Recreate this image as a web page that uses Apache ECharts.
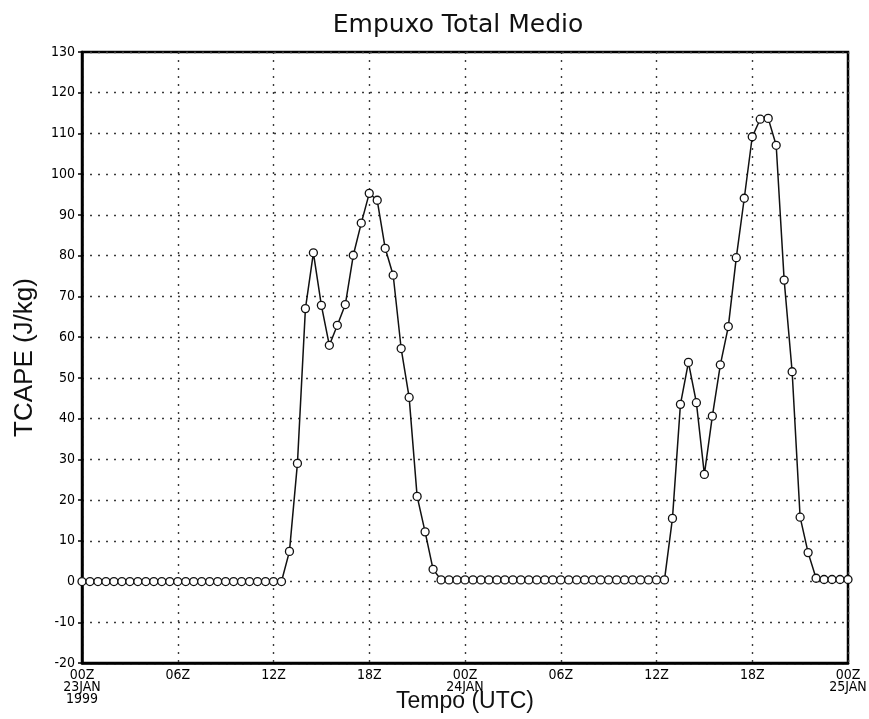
<!DOCTYPE html>
<html>
<head>
<meta charset="utf-8">
<title>Empuxo Total Medio</title>
<script src="https://cdn.jsdelivr.net/npm/echarts@6/dist/echarts.min.js"></script>
<style>
  html, body { margin: 0; padding: 0; background: #fff; }
  #chart { width: 869px; height: 719px; }
</style>
</head>
<body>
<div id="chart"></div>
<script>
// Half-hourly mean TCAPE (J/kg), 00Z 23JAN1999 .. 00Z 25JAN1999
const stepHours = 0.5;
const tcape = [
  0, 0, 0, 0, 0, 0, 0, 0, 0, 0,
  0, 0, 0, 0, 0, 0, 0, 0, 0, 0,
  0, 0, 0, 0, 0, 0,
  7.4, 29.0, 67.0, 80.7, 67.8, 58.0, 62.9, 68.0, 80.1, 88.0,
  95.3, 93.6, 81.8, 75.2, 57.2, 45.2, 20.9, 12.2, 3.0,
  0.4, 0.4, 0.4, 0.4, 0.4, 0.4, 0.4, 0.4, 0.4, 0.4,
  0.4, 0.4, 0.4, 0.4, 0.4, 0.4, 0.4, 0.4, 0.4, 0.4,
  0.4, 0.4, 0.4, 0.4, 0.4, 0.4, 0.4, 0.4, 0.4,
  15.5, 43.5, 53.8, 43.9, 26.3, 40.6, 53.2, 62.6, 79.5, 94.1,
  109.2, 113.5, 113.7, 107.1, 74.0, 51.5, 15.8, 7.1, 0.8,
  0.5, 0.5, 0.5, 0.5
];

// Tick labels every 6 hours along the time axis
const tickHours = [0, 6, 12, 18, 24, 30, 36, 42, 48];
const tickLabels = [
  '00Z\n23JAN\n1999', '06Z', '12Z', '18Z',
  '00Z\n24JAN', '06Z', '12Z', '18Z', '00Z\n25JAN'
];

const yTicks = { min: -20, max: 130, step: 10 };

const seriesData = tcape.map((v, i) => [i * stepHours, v]);

const labelFont = "'Liberation Sans Narrow', 'DejaVu Sans Condensed', 'Liberation Sans', sans-serif";
const dotted = { color: '#3a3a3a', width: 1.4, type: [2, 6] };

const chart = echarts.init(document.getElementById('chart'), null, { renderer: 'canvas' });

chart.setOption({
  backgroundColor: '#ffffff',
  animation: false,
  title: {
    text: 'Empuxo Total Medio',
    left: 453,
    top: 8,
    textAlign: 'center',
    textStyle: {
      fontFamily: "'DejaVu Sans', sans-serif",
      fontSize: 25,
      fontWeight: 'normal',
      color: '#111'
    }
  },
  grid: {
    left: 82,
    right: 21,
    top: 52,
    bottom: 56,
    outerBoundsMode: 'none',
    containLabel: false,
    show: true,
    borderColor: '#000',
    borderWidth: 2.5,
    backgroundColor: 'transparent'
  },
  xAxis: {
    type: 'value',
    min: tickHours[0],
    max: tickHours[tickHours.length - 1],
    interval: 6,
    name: 'Tempo (UTC)',
    nameLocation: 'middle',
    nameGap: 27,
    nameMoveOverlap: false,
    nameTextStyle: {
      fontFamily: "'Liberation Sans', sans-serif",
      fontSize: 23,
      color: '#111'
    },
    axisLine: { show: true, onZero: false, lineStyle: { color: '#000', width: 2.5 } },
    axisTick: { show: false },
    axisLabel: {
      margin: 6,
      fontFamily: labelFont,
      fontSize: 14,
      lineHeight: 12,
      color: '#000',
      verticalAlign: 'top',
      showMinLabel: true,
      showMaxLabel: true,
      formatter: function (v) {
        const k = tickHours.indexOf(v);
        return k >= 0 ? tickLabels[k] : '';
      }
    },
    splitLine: { show: true, lineStyle: dotted }
  },
  yAxis: {
    type: 'value',
    min: yTicks.min,
    max: yTicks.max,
    interval: yTicks.step,
    name: 'TCAPE (J/kg)',
    nameLocation: 'middle',
    nameGap: 44,
    nameMoveOverlap: false,
    nameTextStyle: {
      fontFamily: "'Liberation Sans', sans-serif",
      fontSize: 26,
      color: '#111'
    },
    axisLine: { show: true, onZero: false, lineStyle: { color: '#000', width: 2.5 } },
    axisTick: { show: true, inside: false, length: 4, lineStyle: { color: '#000', width: 1.5 } },
    axisLabel: {
      margin: 7,
      fontFamily: labelFont,
      fontSize: 14,
      color: '#000'
    },
    splitLine: { show: true, lineStyle: dotted }
  },
  series: [{
    type: 'line',
    data: seriesData,
    showAllSymbol: true,
    symbol: 'circle',
    symbolSize: 8,
    clip: false,
    lineStyle: { color: '#111', width: 1.5 },
    itemStyle: { color: '#ffffff', borderColor: '#111', borderWidth: 1.3 },
    z: 5
  }]
});
</script>
</body>
</html>
